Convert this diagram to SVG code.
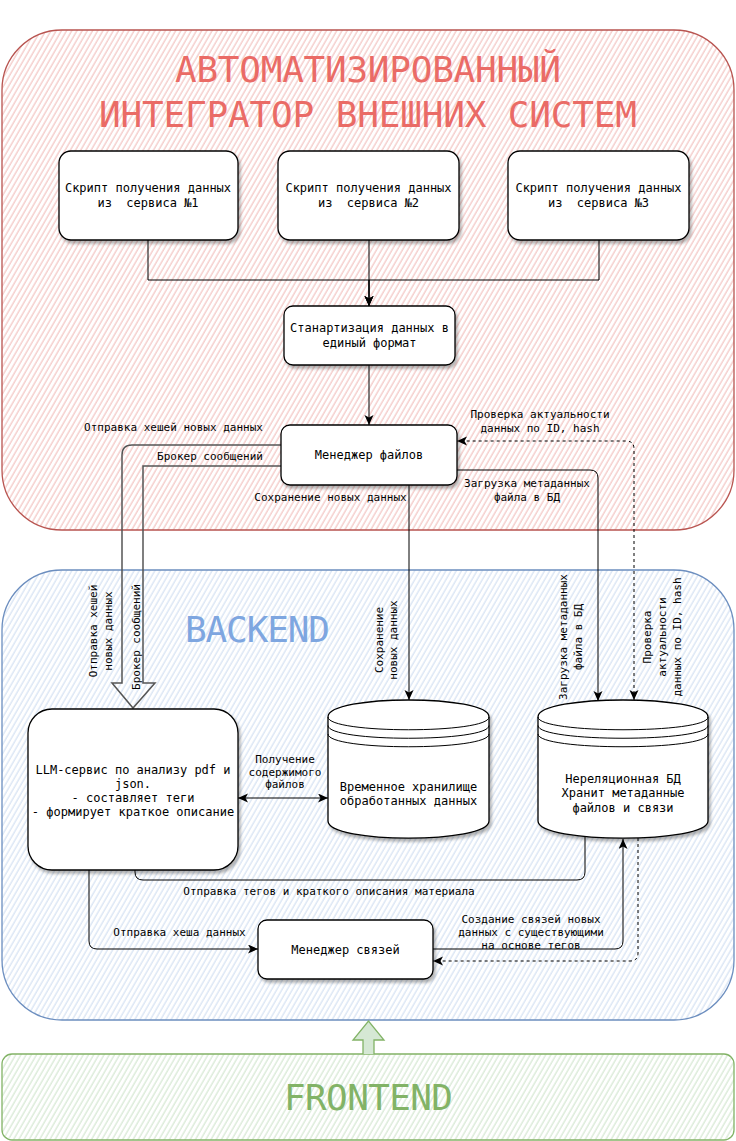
<svg xmlns="http://www.w3.org/2000/svg" width="736" height="1141" viewBox="0 0 736 1141">
<defs>
  <pattern id="hRed" patternUnits="userSpaceOnUse" width="4.5" height="4.5" patternTransform="rotate(30)">
    <rect width="4.5" height="4.5" fill="#ffffff"/>
    <line x1="1" y1="0" x2="1" y2="4.5" stroke="#f1b9b6" stroke-width="1"/>
  </pattern>
  <pattern id="hBlue" patternUnits="userSpaceOnUse" width="4.5" height="4.5" patternTransform="rotate(30)">
    <rect width="4.5" height="4.5" fill="#ffffff"/>
    <line x1="1" y1="0" x2="1" y2="4.5" stroke="#cddcf0" stroke-width="1"/>
  </pattern>
  <pattern id="hGreen" patternUnits="userSpaceOnUse" width="4.5" height="4.5" patternTransform="rotate(30)">
    <rect width="4.5" height="4.5" fill="#ffffff"/>
    <line x1="1" y1="0" x2="1" y2="4.5" stroke="#cde3c9" stroke-width="1"/>
  </pattern>
  <filter id="sh" x="-10%" y="-10%" width="130%" height="130%">
    <feDropShadow dx="2" dy="3" stdDeviation="1.5" flood-color="#000" flood-opacity="0.3"/>
  </filter>
  <marker id="arr" markerUnits="userSpaceOnUse" markerWidth="12" markerHeight="12" refX="10" refY="4.5" orient="auto-start-reverse">
    <path d="M0,0 L10,4.5 L0,9 L2.5,4.5 Z" fill="#000" stroke="none"/>
  </marker>
  <style>
    .node { fill:#ffffff; stroke:#000; stroke-width:1.3; filter:url(#sh); }
    .edge { fill:none; stroke:#000; stroke-width:1; }
    .dash { fill:none; stroke:#000; stroke-width:1; stroke-dasharray:3 3; }
    .t12 { font-family:"DejaVu Sans Mono","Liberation Mono",monospace; font-size:12px; fill:#000; text-anchor:middle; }
    .t11 { font-family:"DejaVu Sans Mono","Liberation Mono",monospace; font-size:11px; fill:#000; text-anchor:middle; }
    .big { font-family:"DejaVu Sans Mono","Liberation Mono",monospace; font-size:36px; text-anchor:middle; }
  </style>
</defs>

<!-- containers -->
<g id="integrator">
  <rect x="2" y="30" width="732" height="500" rx="60" ry="60" fill="url(#hRed)" stroke="#b85450" stroke-width="1.3"/>
  <text class="big" x="368" y="82" fill="#ea6b66" textLength="386" lengthAdjust="spacing">АВТОМАТИЗИРОВАННЫЙ</text>
  <text class="big" x="368" y="127" fill="#ea6b66" textLength="538" lengthAdjust="spacing">ИНТЕГРАТОР ВНЕШНИХ СИСТЕМ</text>
</g>
<g id="backend">
  <rect x="2" y="570" width="732" height="450" rx="60" ry="60" fill="url(#hBlue)" stroke="#6c8ebf" stroke-width="1.3"/>
  <text class="big" x="257.5" y="642" font-size="34" fill="#7ea6e0" textLength="145" lengthAdjust="spacing">BACKEND</text>
</g>
<g id="frontend">
  <rect x="2" y="1054" width="732" height="86" rx="10" ry="10" fill="url(#hGreen)" stroke="#82b366" stroke-width="1.3"/>
  <text class="big" x="368.5" y="1110" font-size="34" fill="#82b366" textLength="169" lengthAdjust="spacing">FRONTEND</text>
</g>

<!-- connectors -->
<g id="connectors">
  <path class="edge" d="M148,240 L148,280 L369,280 L369,306" marker-end="url(#arr)"/>
  <path class="edge" d="M369,240 L369,306" marker-end="url(#arr)"/>
  <path class="edge" d="M599,240 L599,280 L369,280 L369,306" marker-end="url(#arr)"/>
  <path class="edge" d="M369,365 L369,425" marker-end="url(#arr)"/>
  <path class="edge" d="M409,485 L409,700" marker-end="url(#arr)"/>
  <path class="edge" d="M457,470 L590,470 Q598,470 598,478 L598,701" marker-end="url(#arr)"/>
  <path class="dash" d="M634,700 L634,449 Q634,441 626,441 L457,441" marker-start="url(#arr)" marker-end="url(#arr)"/>
  <path d="M281,445 L132,445 Q122,445 122,455 L122,683 L112,683 L133,708 L155,683 L143,683 L143,466 L281,466" fill="none" stroke="#555" stroke-width="1.5"/>
  <path class="edge" d="M238,798 L328,798" marker-start="url(#arr)" marker-end="url(#arr)"/>
  <path class="edge" d="M135,870 L135,872 Q135,880 143,880 L577,880 Q585,880 585,872 L585,836"/>
  <path class="edge" d="M89,870 L89,941 Q89,949 97,949 L258,949" marker-end="url(#arr)"/>
  <path class="edge" d="M433,949 L615,949 Q623,949 623,941 L623,839" marker-end="url(#arr)"/>
  <path class="dash" d="M638,838 L638,953 Q638,961 630,961 L433,961" marker-end="url(#arr)"/>
  <path d="M363,1054 L363,1040 L353,1040 L368.5,1021 L384,1040 L374,1040 L374,1054" fill="#d5e8d4" stroke="#82b366" stroke-width="1.3"/>

  <text class="t11" x="173.5" y="431">Отправка хешей новых данных</text>
  <text class="t11" x="210" y="460">Брокер сообщений</text>
  <text class="t11" x="540" y="418">Проверка актуальности</text>
  <text class="t11" x="540" y="432">данных по ID, hash</text>
  <text class="t11" x="527" y="487">Загрузка метаданных</text>
  <text class="t11" x="527" y="501">файла в БД</text>
  <text class="t11" x="330.5" y="501">Сохранение новых данных</text>

  <text class="t11" transform="translate(97,631) rotate(-90)">Отправка хешей</text>
  <text class="t11" transform="translate(112,631) rotate(-90)">новых данных</text>
  <text class="t11" transform="translate(140,637) rotate(-90)">Брокер сообщений</text>
  <text class="t11" transform="translate(383,640) rotate(-90)">Сохранение</text>
  <text class="t11" transform="translate(397,640) rotate(-90)">новых данных</text>
  <text class="t11" transform="translate(567,637) rotate(-90)">Загрузка метаданных</text>
  <text class="t11" transform="translate(582,637) rotate(-90)">файла в БД</text>
  <text class="t11" transform="translate(651,637) rotate(-90)">Проверка</text>
  <text class="t11" transform="translate(666,637) rotate(-90)">актуальности</text>
  <text class="t11" transform="translate(681,637) rotate(-90)">данных по ID, hash</text>

  <text class="t11" x="285" y="763">Получение</text>
  <text class="t11" x="285" y="776">содержимого</text>
  <text class="t11" x="285" y="788">файлов</text>
  <text class="t11" x="329" y="895">Отправка тегов и краткого описания материала</text>
  <text class="t11" x="179.5" y="936">Отправка хеша данных</text>
  <text class="t11" x="531" y="923">Создание связей новых</text>
  <text class="t11" x="531" y="936">данных с существующими</text>
  <text class="t11" x="531" y="949">на основе тегов</text>
</g>

<!-- nodes -->
<g id="script1">
  <rect class="node" x="59" y="151" width="179" height="89" rx="12" ry="12"/>
  <text class="t12" x="148" y="192">Скрипт получения данных</text>
  <text class="t12" x="148" y="207" xml:space="preserve">из  сервиса №1</text>
</g>
<g id="script2">
  <rect class="node" x="278" y="151" width="181" height="89" rx="12" ry="12"/>
  <text class="t12" x="368.5" y="192">Скрипт получения данных</text>
  <text class="t12" x="368.5" y="207" xml:space="preserve">из  сервиса №2</text>
</g>
<g id="script3">
  <rect class="node" x="508" y="151" width="181" height="89" rx="12" ry="12"/>
  <text class="t12" x="598.5" y="192">Скрипт получения данных</text>
  <text class="t12" x="598.5" y="207" xml:space="preserve">из  сервиса №3</text>
</g>
<g id="standardize">
  <rect class="node" x="284" y="306" width="171" height="59" rx="9" ry="9"/>
  <text class="t12" x="369.5" y="332">Станартизация данных в</text>
  <text class="t12" x="369.5" y="347">единый формат</text>
</g>
<g id="filemanager">
  <rect class="node" x="281" y="425" width="176" height="60" rx="9" ry="9"/>
  <text class="t12" x="369" y="459">Менеджер файлов</text>
</g>
<g id="llm">
  <rect class="node" x="28" y="709" width="210" height="161" rx="24" ry="24"/>
  <text class="t12" x="133" y="774">LLM-сервис по анализу pdf и</text>
  <text class="t12" x="133" y="788">json.</text>
  <text class="t12" x="133" y="802">- составляет теги</text>
  <text class="t12" x="133" y="816">- формирует краткое описание</text>
</g>
<g id="tempstore">
  <path class="node" d="M328,717 C328,694.3 489,694.3 489,717 L489,821 C489,843.7 328,843.7 328,821 Z"/>
  <path class="edge" d="M328,717 C328,734 489,734 489,717 M328,725.5 C328,742.5 489,742.5 489,725.5 M328,734 C328,751 489,751 489,734"/>
  <text class="t12" x="408.5" y="791">Временное хранилище</text>
  <text class="t12" x="408.5" y="805">обработанных данных</text>
</g>
<g id="nosqldb">
  <path class="node" d="M538,717 C538,694.3 708,694.3 708,717 L708,821 C708,843.7 538,843.7 538,821 Z"/>
  <path class="edge" d="M538,717 C538,734 708,734 708,717 M538,725.5 C538,742.5 708,742.5 708,725.5 M538,734 C538,751 708,751 708,734"/>
  <text class="t12" x="623" y="783">Нереляционная БД</text>
  <text class="t12" x="623" y="797">Хранит метаданные</text>
  <text class="t12" x="623" y="812">файлов и связи</text>
</g>
<g id="linkmanager">
  <rect class="node" x="258" y="920" width="175" height="59" rx="9" ry="9"/>
  <text class="t12" x="345.5" y="954">Менеджер связей</text>
</g>
</svg>
